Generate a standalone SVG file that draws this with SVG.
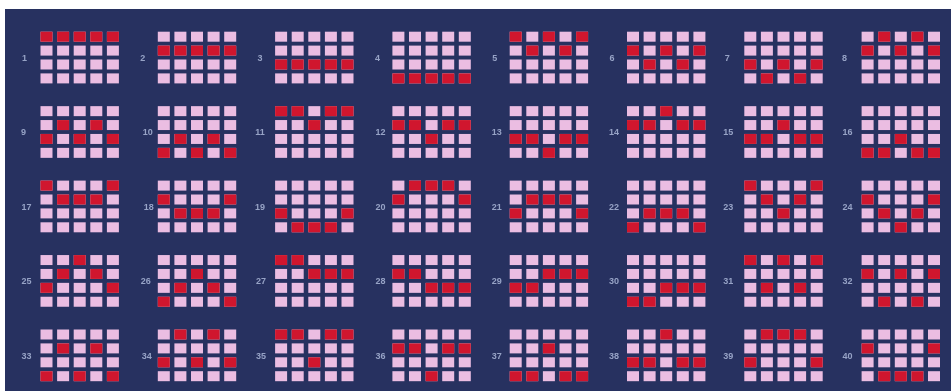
<svg xmlns="http://www.w3.org/2000/svg" xmlns:xlink="http://www.w3.org/1999/xlink" width="951" height="391" viewBox="0 0 951 391">
<style>
.bg{fill:#273160}
.p{fill:#ebbde2}
.r{fill:#d0192d}
.lbl{font-family:"Liberation Sans",Arial,sans-serif;font-size:9px;font-weight:bold;fill:#97a3c6;text-anchor:middle}
</style>
<defs>
<filter id="soft" x="-5%" y="-5%" width="110%" height="110%"><feGaussianBlur stdDeviation="0.6"/></filter>
<g id="grid">
<rect class="p" x="0" y="0" width="12" height="10"/><rect class="p" x="16.6" y="0" width="12" height="10"/><rect class="p" x="33.2" y="0" width="12" height="10"/><rect class="p" x="49.8" y="0" width="12" height="10"/><rect class="p" x="66.4" y="0" width="12" height="10"/>
<rect class="p" x="0" y="13.9" width="12" height="10"/><rect class="p" x="16.6" y="13.9" width="12" height="10"/><rect class="p" x="33.2" y="13.9" width="12" height="10"/><rect class="p" x="49.8" y="13.9" width="12" height="10"/><rect class="p" x="66.4" y="13.9" width="12" height="10"/>
<rect class="p" x="0" y="27.8" width="12" height="10"/><rect class="p" x="16.6" y="27.8" width="12" height="10"/><rect class="p" x="33.2" y="27.8" width="12" height="10"/><rect class="p" x="49.8" y="27.8" width="12" height="10"/><rect class="p" x="66.4" y="27.8" width="12" height="10"/>
<rect class="p" x="0" y="41.7" width="12" height="10"/><rect class="p" x="16.6" y="41.7" width="12" height="10"/><rect class="p" x="33.2" y="41.7" width="12" height="10"/><rect class="p" x="49.8" y="41.7" width="12" height="10"/><rect class="p" x="66.4" y="41.7" width="12" height="10"/>
</g>
<rect id="rc" class="r" width="12" height="10"/>
</defs>
<rect x="0" y="0" width="951" height="391" fill="#ffffff"/>
<rect class="bg" x="5" y="9" width="946" height="382"/>
<g id="paylines" filter="url(#soft)">
<!-- row 1 -->
<g id="line-1" transform="translate(40.5,31.7)"><use href="#grid"/><use href="#rc" x="0" y="0"/><use href="#rc" x="16.6" y="0"/><use href="#rc" x="33.2" y="0"/><use href="#rc" x="49.8" y="0"/><use href="#rc" x="66.4" y="0"/><text class="lbl" x="-16" y="29">1</text></g>
<g id="line-2" transform="translate(157.8,31.7)"><use href="#grid"/><use href="#rc" x="0" y="13.9"/><use href="#rc" x="16.6" y="13.9"/><use href="#rc" x="33.2" y="13.9"/><use href="#rc" x="49.8" y="13.9"/><use href="#rc" x="66.4" y="13.9"/><text class="lbl" x="-15" y="29">2</text></g>
<g id="line-3" transform="translate(275.1,31.7)"><use href="#grid"/><use href="#rc" x="0" y="27.8"/><use href="#rc" x="16.6" y="27.8"/><use href="#rc" x="33.2" y="27.8"/><use href="#rc" x="49.8" y="27.8"/><use href="#rc" x="66.4" y="27.8"/><text class="lbl" x="-15" y="29">3</text></g>
<g id="line-4" transform="translate(392.4,31.7)"><use href="#grid"/><use href="#rc" x="0" y="41.7"/><use href="#rc" x="16.6" y="41.7"/><use href="#rc" x="33.2" y="41.7"/><use href="#rc" x="49.8" y="41.7"/><use href="#rc" x="66.4" y="41.7"/><text class="lbl" x="-15" y="29">4</text></g>
<g id="line-5" transform="translate(509.7,31.7)"><use href="#grid"/><use href="#rc" x="0" y="0"/><use href="#rc" x="16.6" y="13.9"/><use href="#rc" x="33.2" y="0"/><use href="#rc" x="49.8" y="13.9"/><use href="#rc" x="66.4" y="0"/><text class="lbl" x="-15" y="29">5</text></g>
<g id="line-6" transform="translate(627,31.7)"><use href="#grid"/><use href="#rc" x="0" y="13.9"/><use href="#rc" x="16.6" y="27.8"/><use href="#rc" x="33.2" y="13.9"/><use href="#rc" x="49.8" y="27.8"/><use href="#rc" x="66.4" y="13.9"/><text class="lbl" x="-15" y="29">6</text></g>
<g id="line-7" transform="translate(744.3,31.7)"><use href="#grid"/><use href="#rc" x="0" y="27.8"/><use href="#rc" x="16.6" y="41.7"/><use href="#rc" x="33.2" y="27.8"/><use href="#rc" x="49.8" y="41.7"/><use href="#rc" x="66.4" y="27.8"/><text class="lbl" x="-17" y="29">7</text></g>
<g id="line-8" transform="translate(861.6,31.7)"><use href="#grid"/><use href="#rc" x="0" y="13.9"/><use href="#rc" x="16.6" y="0"/><use href="#rc" x="33.2" y="13.9"/><use href="#rc" x="49.8" y="0"/><use href="#rc" x="66.4" y="13.9"/><text class="lbl" x="-17" y="29">8</text></g>
<!-- row 2 -->
<g id="line-9" transform="translate(40.5,106.15)"><use href="#grid"/><use href="#rc" x="0" y="27.8"/><use href="#rc" x="16.6" y="13.9"/><use href="#rc" x="33.2" y="27.8"/><use href="#rc" x="49.8" y="13.9"/><use href="#rc" x="66.4" y="27.8"/><text class="lbl" x="-17" y="29">9</text></g>
<g id="line-10" transform="translate(157.8,106.15)"><use href="#grid"/><use href="#rc" x="0" y="41.7"/><use href="#rc" x="16.6" y="27.8"/><use href="#rc" x="33.2" y="41.7"/><use href="#rc" x="49.8" y="27.8"/><use href="#rc" x="66.4" y="41.7"/><text class="lbl" x="-10" y="29">10</text></g>
<g id="line-11" transform="translate(275.1,106.15)"><use href="#grid"/><use href="#rc" x="0" y="0"/><use href="#rc" x="16.6" y="0"/><use href="#rc" x="33.2" y="13.9"/><use href="#rc" x="49.8" y="0"/><use href="#rc" x="66.4" y="0"/><text class="lbl" x="-15" y="29">11</text></g>
<g id="line-12" transform="translate(392.4,106.15)"><use href="#grid"/><use href="#rc" x="0" y="13.9"/><use href="#rc" x="16.6" y="13.9"/><use href="#rc" x="33.2" y="27.8"/><use href="#rc" x="49.8" y="13.9"/><use href="#rc" x="66.4" y="13.9"/><text class="lbl" x="-12" y="29">12</text></g>
<g id="line-13" transform="translate(509.7,106.15)"><use href="#grid"/><use href="#rc" x="0" y="27.8"/><use href="#rc" x="16.6" y="27.8"/><use href="#rc" x="33.2" y="41.7"/><use href="#rc" x="49.8" y="27.8"/><use href="#rc" x="66.4" y="27.8"/><text class="lbl" x="-13" y="29">13</text></g>
<g id="line-14" transform="translate(627,106.15)"><use href="#grid"/><use href="#rc" x="0" y="13.9"/><use href="#rc" x="16.6" y="13.9"/><use href="#rc" x="33.2" y="0"/><use href="#rc" x="49.8" y="13.9"/><use href="#rc" x="66.4" y="13.9"/><text class="lbl" x="-13" y="29">14</text></g>
<g id="line-15" transform="translate(744.3,106.15)"><use href="#grid"/><use href="#rc" x="0" y="27.8"/><use href="#rc" x="16.6" y="27.8"/><use href="#rc" x="33.2" y="13.9"/><use href="#rc" x="49.8" y="27.8"/><use href="#rc" x="66.4" y="27.8"/><text class="lbl" x="-16" y="29">15</text></g>
<g id="line-16" transform="translate(861.6,106.15)"><use href="#grid"/><use href="#rc" x="0" y="41.7"/><use href="#rc" x="16.6" y="41.7"/><use href="#rc" x="33.2" y="27.8"/><use href="#rc" x="49.8" y="41.7"/><use href="#rc" x="66.4" y="41.7"/><text class="lbl" x="-14" y="29">16</text></g>
<!-- row 3 -->
<g id="line-17" transform="translate(40.5,180.6)"><use href="#grid"/><use href="#rc" x="0" y="0"/><use href="#rc" x="16.6" y="13.9"/><use href="#rc" x="33.2" y="13.9"/><use href="#rc" x="49.8" y="13.9"/><use href="#rc" x="66.4" y="0"/><text class="lbl" x="-14" y="29">17</text></g>
<g id="line-18" transform="translate(157.8,180.6)"><use href="#grid"/><use href="#rc" x="0" y="13.9"/><use href="#rc" x="16.6" y="27.8"/><use href="#rc" x="33.2" y="27.8"/><use href="#rc" x="49.8" y="27.8"/><use href="#rc" x="66.4" y="13.9"/><text class="lbl" x="-9" y="29">18</text></g>
<g id="line-19" transform="translate(275.1,180.6)"><use href="#grid"/><use href="#rc" x="0" y="27.8"/><use href="#rc" x="16.6" y="41.7"/><use href="#rc" x="33.2" y="41.7"/><use href="#rc" x="49.8" y="41.7"/><use href="#rc" x="66.4" y="27.8"/><text class="lbl" x="-15" y="29">19</text></g>
<g id="line-20" transform="translate(392.4,180.6)"><use href="#grid"/><use href="#rc" x="0" y="13.9"/><use href="#rc" x="16.6" y="0"/><use href="#rc" x="33.2" y="0"/><use href="#rc" x="49.8" y="0"/><use href="#rc" x="66.4" y="13.9"/><text class="lbl" x="-12" y="29">20</text></g>
<g id="line-21" transform="translate(509.7,180.6)"><use href="#grid"/><use href="#rc" x="0" y="27.8"/><use href="#rc" x="16.6" y="13.9"/><use href="#rc" x="33.2" y="13.9"/><use href="#rc" x="49.8" y="13.9"/><use href="#rc" x="66.4" y="27.8"/><text class="lbl" x="-13" y="29">21</text></g>
<g id="line-22" transform="translate(627,180.6)"><use href="#grid"/><use href="#rc" x="0" y="41.7"/><use href="#rc" x="16.6" y="27.8"/><use href="#rc" x="33.2" y="27.8"/><use href="#rc" x="49.8" y="27.8"/><use href="#rc" x="66.4" y="41.7"/><text class="lbl" x="-13" y="29">22</text></g>
<g id="line-23" transform="translate(744.3,180.6)"><use href="#grid"/><use href="#rc" x="0" y="0"/><use href="#rc" x="16.6" y="13.9"/><use href="#rc" x="33.2" y="27.8"/><use href="#rc" x="49.8" y="13.9"/><use href="#rc" x="66.4" y="0"/><text class="lbl" x="-16" y="29">23</text></g>
<g id="line-24" transform="translate(861.6,180.6)"><use href="#grid"/><use href="#rc" x="0" y="13.9"/><use href="#rc" x="16.6" y="27.8"/><use href="#rc" x="33.2" y="41.7"/><use href="#rc" x="49.8" y="27.8"/><use href="#rc" x="66.4" y="13.9"/><text class="lbl" x="-14" y="29">24</text></g>
<!-- row 4 -->
<g id="line-25" transform="translate(40.5,255.05)"><use href="#grid"/><use href="#rc" x="0" y="27.8"/><use href="#rc" x="16.6" y="13.9"/><use href="#rc" x="33.2" y="0"/><use href="#rc" x="49.8" y="13.9"/><use href="#rc" x="66.4" y="27.8"/><text class="lbl" x="-14" y="29">25</text></g>
<g id="line-26" transform="translate(157.8,255.05)"><use href="#grid"/><use href="#rc" x="0" y="41.7"/><use href="#rc" x="16.6" y="27.8"/><use href="#rc" x="33.2" y="13.9"/><use href="#rc" x="49.8" y="27.8"/><use href="#rc" x="66.4" y="41.7"/><text class="lbl" x="-12" y="29">26</text></g>
<g id="line-27" transform="translate(275.1,255.05)"><use href="#grid"/><use href="#rc" x="0" y="0"/><use href="#rc" x="16.6" y="0"/><use href="#rc" x="33.2" y="13.9"/><use href="#rc" x="49.8" y="13.9"/><use href="#rc" x="66.4" y="13.9"/><text class="lbl" x="-14" y="29">27</text></g>
<g id="line-28" transform="translate(392.4,255.05)"><use href="#grid"/><use href="#rc" x="0" y="13.9"/><use href="#rc" x="16.6" y="13.9"/><use href="#rc" x="33.2" y="27.8"/><use href="#rc" x="49.8" y="27.8"/><use href="#rc" x="66.4" y="27.8"/><text class="lbl" x="-12" y="29">28</text></g>
<g id="line-29" transform="translate(509.7,255.05)"><use href="#grid"/><use href="#rc" x="0" y="27.8"/><use href="#rc" x="16.6" y="27.8"/><use href="#rc" x="33.2" y="13.9"/><use href="#rc" x="49.8" y="13.9"/><use href="#rc" x="66.4" y="13.9"/><text class="lbl" x="-13" y="29">29</text></g>
<g id="line-30" transform="translate(627,255.05)"><use href="#grid"/><use href="#rc" x="0" y="41.7"/><use href="#rc" x="16.6" y="41.7"/><use href="#rc" x="33.2" y="27.8"/><use href="#rc" x="49.8" y="27.8"/><use href="#rc" x="66.4" y="27.8"/><text class="lbl" x="-13" y="29">30</text></g>
<g id="line-31" transform="translate(744.3,255.05)"><use href="#grid"/><use href="#rc" x="0" y="0"/><use href="#rc" x="16.6" y="27.8"/><use href="#rc" x="33.2" y="0"/><use href="#rc" x="49.8" y="27.8"/><use href="#rc" x="66.4" y="0"/><text class="lbl" x="-16" y="29">31</text></g>
<g id="line-32" transform="translate(861.6,255.05)"><use href="#grid"/><use href="#rc" x="0" y="13.9"/><use href="#rc" x="16.6" y="41.7"/><use href="#rc" x="33.2" y="13.9"/><use href="#rc" x="49.8" y="41.7"/><use href="#rc" x="66.4" y="13.9"/><text class="lbl" x="-14" y="29">32</text></g>
<!-- row 5 -->
<g id="line-33" transform="translate(40.5,329.5)"><use href="#grid"/><use href="#rc" x="0" y="41.7"/><use href="#rc" x="16.6" y="13.9"/><use href="#rc" x="33.2" y="41.7"/><use href="#rc" x="49.8" y="13.9"/><use href="#rc" x="66.4" y="41.7"/><text class="lbl" x="-14" y="29">33</text></g>
<g id="line-34" transform="translate(157.8,329.5)"><use href="#grid"/><use href="#rc" x="0" y="27.8"/><use href="#rc" x="16.6" y="0"/><use href="#rc" x="33.2" y="27.8"/><use href="#rc" x="49.8" y="0"/><use href="#rc" x="66.4" y="27.8"/><text class="lbl" x="-11" y="29">34</text></g>
<g id="line-35" transform="translate(275.1,329.5)"><use href="#grid"/><use href="#rc" x="0" y="0"/><use href="#rc" x="16.6" y="0"/><use href="#rc" x="33.2" y="27.8"/><use href="#rc" x="49.8" y="0"/><use href="#rc" x="66.4" y="0"/><text class="lbl" x="-14" y="29">35</text></g>
<g id="line-36" transform="translate(392.4,329.5)"><use href="#grid"/><use href="#rc" x="0" y="13.9"/><use href="#rc" x="16.6" y="13.9"/><use href="#rc" x="33.2" y="41.7"/><use href="#rc" x="49.8" y="13.9"/><use href="#rc" x="66.4" y="13.9"/><text class="lbl" x="-12" y="29">36</text></g>
<g id="line-37" transform="translate(509.7,329.5)"><use href="#grid"/><use href="#rc" x="0" y="41.7"/><use href="#rc" x="16.6" y="41.7"/><use href="#rc" x="33.2" y="13.9"/><use href="#rc" x="49.8" y="41.7"/><use href="#rc" x="66.4" y="41.7"/><text class="lbl" x="-13" y="29">37</text></g>
<g id="line-38" transform="translate(627,329.5)"><use href="#grid"/><use href="#rc" x="0" y="27.8"/><use href="#rc" x="16.6" y="27.8"/><use href="#rc" x="33.2" y="0"/><use href="#rc" x="49.8" y="27.8"/><use href="#rc" x="66.4" y="27.8"/><text class="lbl" x="-13" y="29">38</text></g>
<g id="line-39" transform="translate(744.3,329.5)"><use href="#grid"/><use href="#rc" x="0" y="27.8"/><use href="#rc" x="16.6" y="0"/><use href="#rc" x="33.2" y="0"/><use href="#rc" x="49.8" y="0"/><use href="#rc" x="66.4" y="27.8"/><text class="lbl" x="-16" y="29">39</text></g>
<g id="line-40" transform="translate(861.6,329.5)"><use href="#grid"/><use href="#rc" x="0" y="13.9"/><use href="#rc" x="16.6" y="41.7"/><use href="#rc" x="33.2" y="41.7"/><use href="#rc" x="49.8" y="41.7"/><use href="#rc" x="66.4" y="13.9"/><text class="lbl" x="-14" y="29">40</text></g>
</g>
</svg>
